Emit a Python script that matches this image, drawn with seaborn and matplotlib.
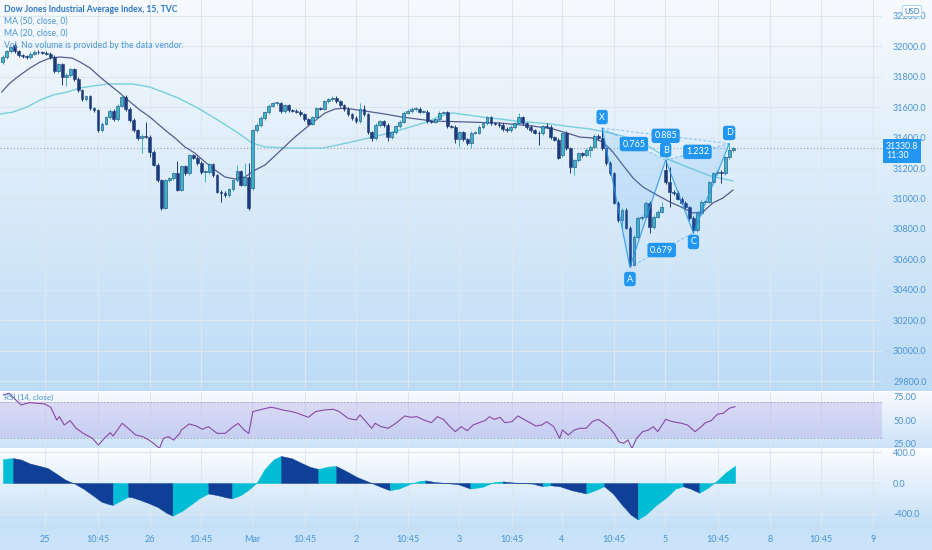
import numpy as np
import matplotlib
matplotlib.use("Agg")
import matplotlib.pyplot as plt
import seaborn as sns

# ---- data (15 min bars, Dow Jones TVC) ----
first_open = 31895
closes = [
    31928, 31967, 31993, 31967, 31941, 31934, 31928, 31948, 31961, 31958, 31955, 31950, 31928,
    31836, 31882, 31797, 31810, 31849, 31784, 31711, 31652, 31670, 31593, 31580, 31449, 31489,
    31534, 31574, 31521, 31607, 31666, 31587, 31515, 31449, 31397, 31410, 31405, 31305, 31220,
    31121, 30938, 31121, 31134, 31167, 31056, 31213, 31167, 31285, 31266, 31233, 31174, 31174,
    31226, 31154, 31043, 31036, 31023, 31062, 31121, 31180, 31089, 31141, 30938, 31449, 31482,
    31528, 31567, 31607, 31626, 31626, 31574, 31613, 31580, 31576, 31570, 31554, 31521, 31489,
    31534, 31593, 31590, 31639, 31652, 31660, 31639, 31613, 31587, 31554, 31528, 31508, 31587,
    31554, 31436, 31397, 31482, 31508, 31482, 31403, 31436, 31475, 31502, 31561, 31574, 31587,
    31590, 31570, 31570, 31508, 31502, 31521, 31561, 31567, 31475, 31472, 31390, 31436, 31390,
    31364, 31430, 31432, 31469, 31495, 31534, 31495, 31490, 31482, 31456, 31449, 31469, 31495,
    31534, 31495, 31469, 31449, 31430, 31428, 31475, 31472, 31403, 31384, 31266, 31430, 31331,
    31207, 31252, 31298, 31285, 31318, 31338, 31410, 31397, 31331, 31233, 31167, 30971, 30859,
    30925, 30807, 30565, 30748, 30872, 30879, 30971, 30813, 30879, 30912, 30944, 31108, 31043,
    31036, 30997, 30971, 30944, 30872, 30793, 30905, 30977, 30980, 31108, 31167, 31174, 31167,
    31272, 31318, 31330.8,
]
# session opens that gap away from the previous close
gap_opens = {3: 32007, 63: 31069, 141: 31285, 167: 31187}
# visible long wicks
highs = {36: 31500, 44: 31245, 59: 31220, 61: 31230, 62: 31230, 90: 31625, 91: 31615,
         130: 31560, 137: 31495, 151: 31462, 166: 30975, 167: 31252, 168: 31207, 183: 31364}
lows = {15: 31745, 16: 31740, 35: 31300, 37: 31272, 40: 30925, 51: 31110, 55: 30977,
        62: 30925, 93: 31380, 97: 31377, 114: 31364, 115: 31338, 118: 31330, 135: 31350,
        143: 31165, 144: 31155, 148: 31272, 156: 30807, 158: 30550, 163: 30774, 168: 30945,
        174: 30774, 181: 31100}

ma20_x = [-0.25, 1.8, 4.4, 6.9, 9.4, 11.9, 14.4, 17.5, 19.5, 22.0, 24.5, 27.0, 29.5, 32.1,
          34.6, 37.1, 40.9, 43.4, 45.9, 48.4, 51.0, 53.5, 56.0, 58.5, 61.0, 63.6, 66.1, 69.3,
          73.6, 77.9, 81.2, 83.7, 86.2, 89.5, 93.0, 96.3, 100.6, 108.4, 116.9, 125.3, 133.6,
          138.6, 142.1, 145.4, 148.7, 151.2, 153.7, 156.2, 158.8, 161.3, 164.8, 168.1, 171.4,
          173.9, 176.4, 178.9, 181.4, 184.0]
ma20_v = [31698, 31757, 31810, 31856, 31895, 31921, 31928, 31921, 31895, 31856, 31797, 31744,
          31692, 31633, 31580, 31534, 31449, 31397, 31338, 31298, 31239, 31187, 31141, 31128,
          31141, 31187, 31220, 31298, 31403, 31495, 31561, 31587, 31593, 31580, 31567, 31554,
          31534, 31508, 31502, 31495, 31475, 31456, 31430, 31403, 31397, 31370, 31305, 31220,
          31134, 31075, 31023, 30977, 30938, 30905, 30912, 30971, 31003, 31056]
ma50_x = [-0.7, 2.6, 6.1, 9.4, 12.7, 16.2, 19.5, 22.7, 26.3, 29.5, 32.8, 37.1, 39.1, 44.2,
          49.2, 54.2, 59.3, 62.8, 66.1, 72.4, 80.7, 86.7, 93.3, 100.1, 106.9, 110.1, 113.4,
          121.0, 129.5, 137.9, 143.6, 147.9, 153.0, 158.0, 163.0, 168.1, 173.1, 178.2, 184.0]
ma50_v = [31554, 31567, 31600, 31646, 31679, 31698, 31725, 31738, 31751, 31751, 31751, 31731,
          31711, 31659, 31593, 31515, 31430, 31364, 31338, 31331, 31331, 31364, 31403, 31449,
          31502, 31541, 31561, 31534, 31508, 31489, 31469, 31456, 31430, 31397, 31338, 31252,
          31200, 31148, 31115]

rsi_x = [0.1, 1.6, 4.6, 6.8, 10.6, 12.1, 13.6, 14.3, 15.5, 17.0, 18.5, 20.3, 22.6, 24.1, 25.6,
         27.1, 27.8, 30.1, 31.6, 33.5, 35.3, 36.8, 38.0, 39.5, 40.5, 41.7, 43.1, 44.6, 45.0,
         47.0, 48.8, 50.3, 51.8, 54.0, 56.0, 58.1, 59.3, 60.8, 62.0, 63.0, 65.3, 67.5, 69.0,
         70.5, 72.8, 74.3, 77.0, 78.8, 81.0, 83.3, 84.8, 87.0, 89.0, 90.0, 91.5, 93.0, 93.8,
         95.3, 97.1, 99.0, 101.3, 102.8, 104.3, 106.1, 108.0, 109.5, 111.0, 112.5, 114.0, 115.5,
         117.0, 118.5, 120.0, 121.5, 122.6, 123.8, 125.3, 126.5, 128.3, 129.8, 131.3, 132.8,
         134.3, 135.8, 137.0, 138.8, 140.3, 141.0, 142.5, 144.0, 145.5, 147.0, 148.5, 150.0,
         151.5, 153.0, 154.0, 155.2, 156.4, 157.5, 158.5, 159.7, 161.2, 162.7, 163.9, 165.0,
         167.0, 168.7, 171.0, 172.5, 174.4, 176.0, 177.0, 178.5, 180.0, 181.5, 183.0, 184.5]
rsi_v = [77.2, 79.0, 66.3, 68.9, 67.4, 63.8, 50.0, 53.6, 44.6, 49.3, 41.0, 35.5, 30.1, 22.9,
         30.1, 36.3, 32.6, 46.4, 41.0, 33.7, 31.9, 28.3, 24.7, 19.2, 30.1, 31.9, 28.3, 35.5,
         39.2, 45.7, 43.5, 39.9, 42.8, 35.5, 35.5, 42.8, 46.4, 39.2, 35.5, 59.1, 61.6, 63.8,
         62.7, 60.9, 59.1, 57.3, 52.9, 59.1, 60.9, 61.6, 59.1, 51.8, 50.0, 55.5, 48.2, 41.0,
         46.4, 42.8, 41.0, 46.4, 54.4, 52.9, 53.6, 50.0, 47.1, 53.6, 50.7, 43.5, 37.3, 42.8,
         38.4, 44.6, 47.1, 49.3, 53.6, 50.7, 52.9, 47.1, 48.2, 54.4, 50.7, 47.1, 43.5, 44.6,
         48.2, 42.8, 30.1, 39.2, 33.7, 39.2, 41.0, 41.0, 48.2, 50.7, 46.4, 41.0, 35.5, 26.5,
         24.7, 28.3, 19.2, 30.1, 37.3, 39.2, 42.8, 37.3, 50.7, 48.2, 46.4, 44.6, 37.3, 42.8,
         47.1, 49.3, 56.2, 57.3, 62.7, 64.5]

osc_x = [0.07, 2.6, 4.6, 6.8, 9.1, 11.3, 13.6, 15.8, 18.1, 20.3, 22.6, 24.8, 26.8, 27.8,
         29.3, 31.6, 32.6, 34.6, 36.8, 39.1, 41.3, 42.8, 45.0, 47.3, 49.5, 51.8, 54.0, 56.3,
         57.8, 60.0, 62.3, 64.1, 66.0, 68.3, 70.1, 72.8, 75.0, 77.3, 79.5, 81.8, 84.0, 86.3,
         89.3, 92.3, 95.3, 97.5, 99.8, 102.8, 105.0, 106.5, 108.8, 111.8, 114.8, 117.8, 120.8,
         123.8, 126.0, 128.3, 130.5, 133.5, 136.0, 138.0, 140.3, 143.3, 147.0, 149.3, 151.5,
         153.7, 156.0, 158.2, 160.0, 162.0, 164.2, 167.2, 169.5, 171.4, 173.2, 175.5, 177.7,
         180.0, 182.2, 184.5]
osc_v = [310, 322, 303, 253, 223, 194, 118, 42, -8, -72, -156, -240, -274, -282,
         -240, -177, -185, -219, -261, -312, -387, -421, -366, -282, -198, -135, -156, -185,
         -198, -156, -72, 13, 181, 307, 349, 320, 265, 211, 181, 211, 219, 160,
         76, 13, -51, -93, -72, -8, 25, 34, 13, 0, -17, -72, -51,
         13, 21, 8, 0, -8, -42, -29, -42, -93, -135, -93, -42,
         -135, -282, -408, -471, -408, -303, -185, -72, -42, -72, -126, -59,
         34, 139, 223]

# harmonic pattern X A B C D and its ratios
pat_names = ["X", "A", "B", "C", "D"]
pat_x = [151, 158, 167, 174, 183]
pat_y = [31462, 30550, 31252, 30774, 31360]
pat_label_y = [31534, 30472, 31318, 30715, 31430]
ratio_pairs = [(0, 2), (0, 4), (1, 3), (2, 4)]
ratio_text = ["0.765", "0.885", "0.679", "1.232"]

last_price = 31330.8
price_ticks = list(range(29800, 32201, 200))
day_ticks = [10.65, 24.0, 37.1, 50.0, 62.8, 76.1, 89.0, 102.1, 115.0, 128.3, 140.9, 154.0,
             166.8, 180.2, 193.3, 206.1, 219.2]
day_labels = ["25", "10:45", "26", "10:45", "Mar", "10:45", "2", "10:45", "3", "10:45",
              "4", "10:45", "5", "10:45", "8", "10:45", "9"]

# ---- style ----
sns.set_theme(style="white")
plt.rcParams["font.family"] = ["Lato", "DejaVu Sans"]

UP = "#38b6c6"
DOWN = "#1b3a7c"
EDGE = "#1d3f80"
BLUE = "#2196f3"
LABEL = "#4a94d6"
GRID = "#dce7f0"
OSC_UP = "#00bcd4"
OSC_DN = "#0f3f96"

W, H = 932, 550
fig = plt.figure(figsize=(W / 100, H / 100), dpi=100)

# background: one vertical gradient per pane
def grad(top, bottom, n):
    return np.linspace(top, bottom, n)

rows = np.vstack([
    grad((0.968, 0.981, 0.995), (0.74, 0.862, 0.965), 391),
    grad((0.99, 0.99, 1.0), (0.99, 0.99, 1.0), 1),
    grad((0.975, 0.978, 0.996), (0.80, 0.89, 0.975), 56),
    grad((0.99, 0.993, 1.0), (0.765, 0.875, 0.968), 80),
    grad((0.78, 0.885, 0.972), (0.80, 0.895, 0.978), 22),
])
bg = fig.add_axes([0, 0, 1, 1], zorder=-5)
bg.imshow(rows[:, None, :], aspect="auto", extent=[0, 1, 0, 1])
bg.axis("off")

right = 882 / W
def pane(top_px, bot_px):
    ax = fig.add_axes([0, 1 - bot_px / H, right, (bot_px - top_px) / H])
    ax.set_facecolor("none")
    for s in ax.spines.values():
        s.set_visible(False)
    return ax

ax = pane(0, 390)
ax_rsi = pane(392, 448)
ax_osc = pane(449, 527)

xlim = (-0.68, 221.5)
for a in (ax, ax_rsi, ax_osc):
    a.set_xlim(*xlim)
    a.set_xticks(day_ticks)
    a.tick_params(axis="x", length=0, labelbottom=False)
    for t in day_ticks:
        a.axvline(t, color=GRID, lw=0.8, zorder=0)
    a.yaxis.tick_right()
    a.tick_params(axis="y", length=0, pad=8, labelsize=6.5, labelcolor=LABEL)

# ---- main price pane ----
ax.set_ylim(29744, 32302)
ax.set_yticks(price_ticks)
ax.set_yticklabels([f"{p:.1f}" for p in price_ticks])
for p in price_ticks:
    ax.axhline(p, color=GRID, lw=0.8, zorder=0)

n = len(closes)
idx = np.arange(n)
opens = [first_open] + closes[:-1]
for k, v in gap_opens.items():
    opens[k] = v
for i in idx:
    o, c = opens[i], closes[i]
    up = c >= o
    hi = highs.get(i, max(o, c) + 10)
    lo = lows.get(i, min(o, c) - 10)
    ax.vlines(i, lo, hi, color=UP if up else DOWN, lw=0.7, zorder=3)
    ax.bar(i, max(abs(c - o), 4), bottom=min(o, c), width=0.7,
           color=UP if up else DOWN, edgecolor=EDGE, lw=0.4, zorder=4)

sns.lineplot(x=ma50_x, y=ma50_v, ax=ax, color="#78d0dc", lw=1.0, zorder=2)
sns.lineplot(x=ma20_x, y=ma20_v, ax=ax, color="#555d92", lw=0.9, zorder=2)

ax.axhline(last_price, color="#97a6b5", lw=0.8, ls=(0, (1, 2)), zorder=1)

# harmonic pattern
px, py = pat_x, pat_y
ax.fill([px[0], px[1], px[2]], [py[0], py[1], py[2]], color=BLUE, alpha=0.12, lw=0, zorder=5)
ax.fill([px[2], px[3], px[4]], [py[2], py[3], py[4]], color=BLUE, alpha=0.12, lw=0, zorder=5)
ax.plot(px, py, color=BLUE, lw=0.9, alpha=0.8, zorder=6)
for (a_, b_), txt in zip(ratio_pairs, ratio_text):
    ax.plot([px[a_], px[b_]], [py[a_], py[b_]], color=BLUE, lw=0.7, alpha=0.5,
            ls=(0, (3, 2)), zorder=6)
    ax.text((px[a_] + px[b_]) / 2, (py[a_] + py[b_]) / 2, txt, ha="center", va="center",
            fontsize=6.5, color="white", zorder=8,
            bbox=dict(boxstyle="round,pad=0.3", fc=BLUE, ec="none"))
for name, x_, ly in zip(pat_names, pat_x, pat_label_y):
    ax.text(x_, ly, name, ha="center", va="center", fontsize=6.5, color="white", zorder=8,
            bbox=dict(boxstyle="round,pad=0.3", fc=BLUE, ec="none"))

# ---- RSI pane ----
ax_rsi.set_ylim(19.6, 80.4)
ax_rsi.set_yticks([25, 50, 75])
ax_rsi.set_yticklabels(["25.00", "50.00", "75.00"])
ax_rsi.axhspan(30, 70, color="#9c8ae0", alpha=0.25, lw=0, zorder=0)
ax_rsi.axhline(70, color="#a0a0b8", lw=0.6, ls=(0, (2, 2)))
ax_rsi.axhline(30, color="#a0a0b8", lw=0.6, ls=(0, (2, 2)))
sns.lineplot(x=rsi_x, y=rsi_v, ax=ax_rsi, color="#8a48a8", lw=0.8, zorder=3)
ax_rsi.text(0.004, 0.9, "RSI (14, close)", transform=ax_rsi.transAxes, fontsize=5.8,
            color=LABEL, va="center", family=["Liberation Sans Narrow", "Lato"])

# ---- oscillator pane: area coloured by rising / falling runs ----
ax_osc.set_ylim(-568, 439)
ax_osc.set_yticks([-400, 0, 400])
ax_osc.set_yticklabels(["-400.0", "0.0", "400.0"])
for v in (-400, 0, 400):
    ax_osc.axhline(v, color=GRID, lw=0.8, zorder=0)
seg_up = [osc_v[j + 1] > osc_v[j] for j in range(len(osc_x) - 1)]
start = 0
for j in range(1, len(seg_up) + 1):
    if j == len(seg_up) or seg_up[j] != seg_up[start]:
        col = OSC_UP if seg_up[start] else OSC_DN
        ax_osc.fill_between(osc_x[start:j + 1], osc_v[start:j + 1], 0, color=col,
                            lw=0.3, edgecolor=col, zorder=2)
        start = j

ax_osc.tick_params(axis="x", labelbottom=True, labelsize=6.5, labelcolor=LABEL, pad=6)
ax_osc.set_xticklabels(day_labels)

# ---- header texts ----
hdr = ["Liberation Sans Narrow", "Lato"]
fig.text(4 / W, 1 - 9 / H, "Dow Jones Industrial Average Index, 15, TVC", fontsize=6.2,
         color="#2a76c6", va="center", family=hdr, weight="bold")
fig.text(4 / W, 1 - 21 / H, "MA (50, close, 0)", fontsize=6.2, color=LABEL, va="center", family=hdr)
fig.text(4 / W, 1 - 33 / H, "MA (20, close, 0)", fontsize=6.2, color=LABEL, va="center", family=hdr)
fig.text(4 / W, 1 - 45 / H, "Vol: No volume is provided by the data vendor.", fontsize=6.2,
         color=LABEL, va="center", family=hdr)

fig.text(912 / W, 1 - 11 / H, "USD", ha="center", va="center", fontsize=5.5, color="#2a76c6",
         zorder=10, bbox=dict(boxstyle="round,pad=0.25", fc="white", ec="#9cc8ec", lw=0.6))
fig.text(886 / W, 1 - 151 / H, f"{last_price:.1f}\n11:30", ha="left", va="center",
         fontsize=6.3, color="white", linespacing=1.1,
         bbox=dict(boxstyle="square,pad=0.3", fc=BLUE, ec="none"))

fig.savefig("out.png", dpi=100)
